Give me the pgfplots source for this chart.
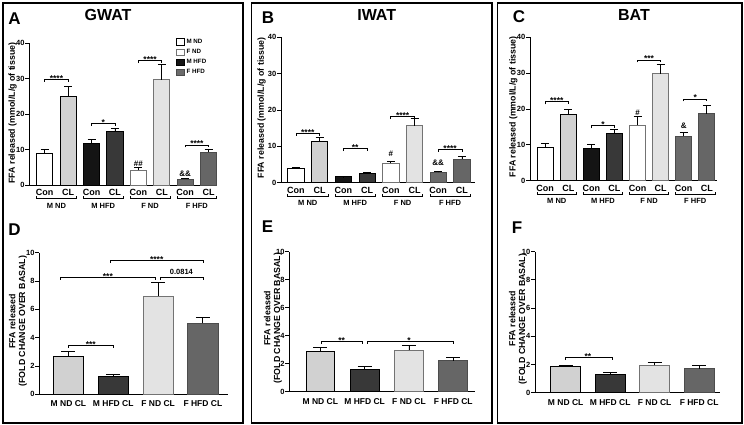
\documentclass[border=0pt]{standalone}
\usepackage{fontspec}
\setmainfont{Liberation Sans}
\usepackage{pgfplots}
\pgfplotsset{compat=1.18}

\definecolor{cmndcl}{gray}{0.82}
\definecolor{cmhfd}{gray}{0.08}
\definecolor{cmhfdcl}{gray}{0.22}
\definecolor{cfndcl}{gray}{0.89}
\definecolor{cfnddraw}{gray}{0.45}
\definecolor{cfhfd}{gray}{0.42}
\definecolor{cfhfdcl}{gray}{0.40}

\newcommand{\sig}[6]{%
  \draw[line width=0.7pt] ([yshift=-2.5pt]axis cs:#1,#3) -- (axis cs:#1,#3) -- (axis cs:#2,#3) -- ([yshift=-2.5pt]axis cs:#2,#3);
  \node[anchor=base, inner sep=0pt, font=\fontsize{8.5}{9}\selectfont\bfseries] at ([yshift=#6]axis cs:#4,#3) {#5};}
\newcommand{\grp}[4]{%
  \draw[line width=0.7pt] ([yshift=-11.5pt]axis cs:#1,0) -- ([yshift=-13.5pt]axis cs:#1,0) -- ([yshift=-13.5pt]axis cs:#2,0) -- ([yshift=-11.5pt]axis cs:#2,0);
  \node[anchor=center, inner sep=0pt, font=\fontsize{7.5}{8}\selectfont\bfseries] at ([yshift=-20.5pt]axis cs:#3,0) {#4};}
\newcommand{\mk}[3]{\node[anchor=center, inner sep=0pt, font=\fontsize{8}{9}\selectfont\bfseries] at (axis cs:#1,#2) {#3};}

\pgfplotsset{
  sty mndcon/.style={fill=white, draw=black},
  sty mndcl/.style={fill=cmndcl, draw=black},
  sty mhfdcon/.style={fill=cmhfd, draw=black},
  sty mhfdcl/.style={fill=cmhfdcl, draw=black},
  sty fndcon/.style={fill=white, draw=cfnddraw},
  sty fndcl/.style={fill=cfndcl, draw=cfnddraw},
  sty fhfdcon/.style={fill=cfhfd, draw=black!70},
  sty fhfdcl/.style={fill=cfhfdcl, draw=black!70},
  errtop/.style={error bars/.cd, y dir=plus, y explicit,
    error bar style={line width=0.8pt, black},
    error mark options={rotate=90, mark size=4pt, line width=0.8pt, black}},
  errbot/.style={error bars/.cd, y dir=plus, y explicit,
    error bar style={line width=0.8pt, black},
    error mark options={rotate=90, mark size=7pt, line width=0.8pt, black}},
  base/.style={
    scale only axis, anchor=south west,
    ybar, bar shift=0pt, clip=false,
    axis x line*=bottom, axis y line*=left,
    axis line style={line width=0.8pt, -},
    tick align=outside, major tick length=4pt,
    ytick style={line width=0.8pt, black},
    xtick style={draw=none},
    tick label style={font=\fontsize{7.5}{8}\selectfont\bfseries},
    yticklabel style={inner sep=0.6pt},
    /pgf/number format/assume math mode=true,
    ymin=0,
    every axis plot/.append style={line width=0.8pt},
  },
  top/.style={base, ymax=40, ytick={0,10,20,30,40},
    xtick={0,1,2,3,4,5,6,7},
    xticklabels={Con,CL,Con,CL,Con,CL,Con,CL},
    x tick label style={font=\fontsize{9}{10}\selectfont\bfseries, anchor=center, yshift=-3.5pt},
    ylabel={FFA released (mmol/L/g of tissue)},
    ylabel style={font=\fontsize{8.8}{9}\selectfont\bfseries, anchor=center},
  },
  bot/.style={base, ymax=10, ytick={0,2,4,6,8,10},
    xtick={0,1,2,3},
    xticklabels={M ND CL, M HFD CL, F ND CL, F HFD CL},
    x tick label style={font=\fontsize{8.5}{9}\selectfont\bfseries, anchor=center, yshift=-5.5pt},
    ylabel={FFA released\\(FOLD CHANGE OVER BASAL)},
    ylabel style={font=\fontsize{8.8}{9.6}\selectfont\bfseries, align=center, anchor=center},
  },
}

\begin{document}
\begin{tikzpicture}
\path[use as bounding box] (0pt,0pt) rectangle (744pt,425pt);
\draw[line width=1.6pt] (3pt,2pt) rectangle (243pt,422pt);
\draw[line width=1.6pt] (251.5pt,2pt) rectangle (492pt,422pt);
\draw[line width=1.6pt] (497.5pt,2pt) rectangle (742pt,422pt);

\node[font=\fontsize{17}{18}\selectfont\bfseries] at (14.5pt,406.7pt) {A};
\node[font=\fontsize{17}{18}\selectfont\bfseries] at (268pt,407pt) {B};
\node[font=\fontsize{17}{18}\selectfont\bfseries] at (519pt,408pt) {C};
\node[font=\fontsize{17}{18}\selectfont\bfseries] at (14.5pt,195pt) {D};
\node[font=\fontsize{17}{18}\selectfont\bfseries] at (267.5pt,198.3pt) {E};
\node[font=\fontsize{17}{18}\selectfont\bfseries] at (517pt,197.5pt) {F};
\node[font=\fontsize{16}{17}\selectfont\bfseries] at (108pt,410pt) {GWAT};
\node[font=\fontsize{16}{17}\selectfont\bfseries] at (376.7pt,410pt) {IWAT};
\node[font=\fontsize{16}{17}\selectfont\bfseries] at (634pt,410pt) {BAT};

% ---------------- A: GWAT
\begin{axis}[top, at={(29.3pt,240pt)}, width=187.7pt, height=141.7pt,
  xmin=-0.66, xmax=7.36, bar width=0.69,
  ylabel style={at={(axis description cs:-0.0895,0.508)}},
  legend style={at={(0.78,1.045)}, anchor=north west, draw=none, fill=none,
    font=\fontsize{6.2}{7}\selectfont\bfseries, row sep=0.4pt, inner sep=0pt},
  legend cell align=left,
  legend image code/.code={\draw[#1, line width=0.7pt] (0pt,-3.2pt) rectangle (8pt,3.2pt);}]
\addplot[sty mndcon, errtop] coordinates {(0,8.8) +- (0,1.3)};
\addlegendentry{M ND}
\addplot[sty fndcon, errtop] coordinates {(4,4.2) +- (0,0.9)};
\addlegendentry{F ND}
\addplot[sty mhfdcon, errtop] coordinates {(2,11.7) +- (0,1.2)};
\addlegendentry{M HFD}
\addplot[sty fhfdcon, errtop] coordinates {(6,1.7) +- (0,0.2)};
\addlegendentry{F HFD}
\addplot[sty mndcl, forget plot, errtop] coordinates {(1,25.1) +- (0,2.8)};
\addplot[sty mhfdcl, forget plot, errtop] coordinates {(3,15.0) +- (0,1.1)};
\addplot[sty fndcl, forget plot, errtop] coordinates {(5,29.7) +- (0,4.3)};
\addplot[sty fhfdcl, forget plot, errtop] coordinates {(7,9.3) +- (0,0.8)};
\sig{0}{1}{29.8}{0.5}{****}{-2pt}
\sig{2}{3}{17.4}{2.5}{*}{-2pt}
\sig{4}{5}{35.1}{4.5}{****}{-2pt}
\sig{6}{7}{11.3}{6.5}{****}{-2pt}
\mk{4}{5.9}{\#\#}
\mk{6}{3.3}{\&\&}
\grp{-0.35}{1.35}{0.5}{M ND}
\grp{1.65}{3.35}{2.5}{M HFD}
\grp{3.65}{5.35}{4.5}{F ND}
\grp{5.65}{7.35}{6.5}{F HFD}
\end{axis}

% ---------------- B: IWAT
\begin{axis}[top, at={(281pt,242.3pt)}, width=194pt, height=145.4pt,
  xmin=-0.63, xmax=7.55, bar width=0.69,
  ylabel style={at={(axis description cs:-0.0995,0.514)}}]
\addplot[sty mndcon, errtop] coordinates {(0,4.0) +- (0,0.3)};
\addplot[sty mndcl, errtop] coordinates {(1,11.3) +- (0,1.2)};
\addplot[sty mhfdcon, errtop] coordinates {(2,1.6) +- (0,0.1)};
\addplot[sty mhfdcl, errtop] coordinates {(3,2.5) +- (0,0.3)};
\addplot[sty fndcon, errtop] coordinates {(4,5.3) +- (0,0.6)};
\addplot[sty fndcl, errtop] coordinates {(5,15.7) +- (0,2.0)};
\addplot[sty fhfdcon, errtop] coordinates {(6,2.85) +- (0,0.35)};
\addplot[sty fhfdcl, errtop] coordinates {(7,6.5) +- (0,0.6)};
\sig{0}{1}{13.6}{0.5}{****}{-2pt}
\sig{2}{3}{9.4}{2.5}{**}{-2pt}
\sig{4}{5}{18.2}{4.5}{****}{-2pt}
\sig{6}{7}{9.2}{6.5}{****}{-2pt}
\mk{4}{7.9}{\#}
\mk{6}{5.5}{\&\&}
\grp{-0.35}{1.35}{0.5}{M ND}
\grp{1.65}{3.35}{2.5}{M HFD}
\grp{3.65}{5.35}{4.5}{F ND}
\grp{5.65}{7.35}{6.5}{F HFD}
\end{axis}

% ---------------- C: BAT
\begin{axis}[top, at={(530pt,244.3pt)}, width=186.7pt, height=143.4pt,
  xmin=-0.66, xmax=7.43, bar width=0.7,
  ylabel style={at={(axis description cs:-0.0894,0.516)}}]
\addplot[sty mndcon, errtop] coordinates {(0,9.2) +- (0,1.2)};
\addplot[sty mndcl, errtop] coordinates {(1,18.5) +- (0,1.4)};
\addplot[sty mhfdcon, errtop] coordinates {(2,8.9) +- (0,1.1)};
\addplot[sty mhfdcl, errtop] coordinates {(3,13.2) +- (0,1.1)};
\addplot[sty fndcon, errtop] coordinates {(4,15.4) +- (0,2.4)};
\addplot[sty fndcl, errtop] coordinates {(5,29.8) +- (0,2.7)};
\addplot[sty fhfdcon, errtop] coordinates {(6,12.4) +- (0,1.1)};
\addplot[sty fhfdcl, errtop] coordinates {(7,18.7) +- (0,2.4)};
\sig{0}{1}{22.0}{0.5}{****}{-2pt}
\sig{2}{3}{15.3}{2.5}{*}{-2pt}
\sig{4}{5}{33.7}{4.5}{***}{-2pt}
\sig{6}{7}{22.8}{6.5}{*}{-2pt}
\mk{4}{19.0}{\#}
\mk{6}{15.3}{\&}
\grp{-0.35}{1.35}{0.5}{M ND}
\grp{1.65}{3.35}{2.5}{M HFD}
\grp{3.65}{5.35}{4.5}{F ND}
\grp{5.65}{7.35}{6.5}{F HFD}
\end{axis}

% ---------------- D
\begin{axis}[bot, at={(39.3pt,30.7pt)}, width=188.7pt, height=141.6pt,
  xmin=-0.65, xmax=3.56, bar width=0.67,
  ylabel style={at={(axis description cs:-0.113,0.516)}}]
\addplot[sty mndcl, errbot] coordinates {(0,2.66) +- (0,0.35)};
\addplot[sty mhfdcl, errbot] coordinates {(1,1.29) +- (0,0.08)};
\addplot[sty fndcl, errbot] coordinates {(2,6.94) +- (0,0.97)};
\addplot[sty fhfdcl, errbot] coordinates {(3,5.0) +- (0,0.43)};
\sig{0}{1}{3.48}{0.5}{***}{-2pt}
\sig{-0.18}{1.93}{8.26}{0.88}{***}{-2pt}
\sig{2.05}{3}{8.26}{2.52}{\fontsize{7.5}{8}\selectfont 0.0814}{3pt}
\sig{0.93}{3}{9.44}{1.97}{****}{-2pt}
\end{axis}

% ---------------- E
\begin{axis}[bot, at={(289.3pt,33.3pt)}, width=185.7pt, height=140pt,
  xmin=-0.70, xmax=3.49, bar width=0.65,
  ylabel style={at={(axis description cs:-0.088,0.526)}}]
\addplot[sty mndcl, errbot] coordinates {(0,2.88) +- (0,0.29)};
\addplot[sty mhfdcl, errbot] coordinates {(1,1.62) +- (0,0.19)};
\addplot[sty fndcl, errbot] coordinates {(2,2.95) +- (0,0.36)};
\addplot[sty fhfdcl, errbot] coordinates {(3,2.21) +- (0,0.24)};
\sig{0.03}{0.95}{3.62}{0.48}{**}{-2pt}
\sig{1.05}{3}{3.62}{2.0}{*}{-2pt}
\end{axis}

% ---------------- F
\begin{axis}[bot, at={(535pt,32.3pt)}, width=185pt, height=141pt,
  xmin=-0.69, xmax=3.47, bar width=0.67,
  ylabel style={at={(axis description cs:-0.092,0.523)}}]
\addplot[sty mndcl, errbot] coordinates {(0,1.84) +- (0,0.12)};
\addplot[sty mhfdcl, errbot] coordinates {(1,1.3) +- (0,0.13)};
\addplot[sty fndcl, errbot] coordinates {(2,1.94) +- (0,0.19)};
\addplot[sty fhfdcl, errbot] coordinates {(3,1.7) +- (0,0.23)};
\sig{0}{1.05}{2.48}{0.5}{**}{-2pt}
\end{axis}
\end{tikzpicture}
\end{document}
